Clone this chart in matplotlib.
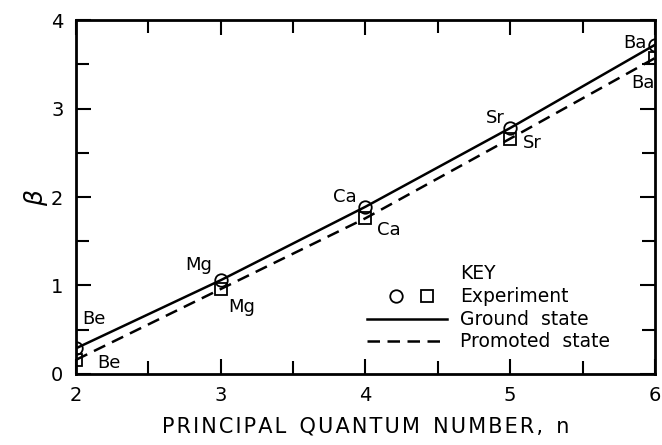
import matplotlib
matplotlib.use("Agg")
import matplotlib.pyplot as plt
from matplotlib.lines import Line2D
from matplotlib.ticker import MultipleLocator

# principal quantum number and element of each alkaline earth atom
n = [2, 3, 4, 5, 6]
elements = ["Be", "Mg", "Ca", "Sr", "Ba"]

# beta values: ground state (circles, solid) and promoted state (squares, dashed)
betaGround = [0.29, 1.06, 1.89, 2.78, 3.72]
betaPromoted = [0.16, 0.96, 1.76, 2.66, 3.57]

# label anchor points (data units) for the upper / lower element names
upperLabelXY = [(2.04, 0.62, "left"), (2.94, 1.23, "right"), (3.94, 2.0, "right"),
                (4.96, 2.89, "right"), (5.94, 3.74, "right")]
lowerLabelXY = [(2.145, 0.12, "left"), (3.05, 0.76, "left"), (4.08, 1.63, "left"),
                (5.09, 2.61, "left"), (5.995, 3.29, "right")]

plt.rcParams["font.family"] = "DejaVu Sans"


def spaced(s):
    # open up the letter spacing a little with hair spaces
    return "\u200a".join(s)


fig = plt.figure(figsize=(6.62, 4.45), dpi=100)
ax = fig.add_axes([0.1148, 0.1596, 0.8746, 0.7954])

ax.plot(n, betaGround, "-", color="black", lw=1.8)
ax.plot(n, betaPromoted, color="black", lw=1.8, dashes=(5, 3))
ax.plot(n, betaGround, "o", ms=9, mfc="none", mec="black", mew=1.3)
ax.plot(n, betaPromoted, "s", ms=9, mfc="none", mec="black", mew=1.3)

for (x, y, ha), name in zip(upperLabelXY, elements):
    ax.text(x, y, name, fontsize=13, ha=ha, va="center")
for (x, y, ha), name in zip(lowerLabelXY, elements):
    ax.text(x, y, name, fontsize=13, ha=ha, va="center")

# key drawn by hand in axes fractions
tr = ax.transAxes
keyFont = 13.5
ax.text(0.663, 0.285, "KEY", transform=tr, fontsize=keyFont, va="center")
ax.text(0.663, 0.220, "Experiment", transform=tr, fontsize=keyFont, va="center")
ax.text(0.663, 0.155, "Ground  state", transform=tr, fontsize=keyFont, va="center")
ax.text(0.663, 0.093, "Promoted  state", transform=tr, fontsize=keyFont, va="center")
ax.add_line(Line2D([0.553], [0.220], transform=tr, marker="o", ms=9,
                   mfc="none", mec="black", mew=1.3, ls="none"))
ax.add_line(Line2D([0.606], [0.220], transform=tr, marker="s", ms=9,
                   mfc="none", mec="black", mew=1.3, ls="none"))
ax.add_line(Line2D([0.503, 0.641], [0.155, 0.155], transform=tr,
                   color="black", lw=1.8))
ax.add_line(Line2D([0.503, 0.641], [0.093, 0.093], transform=tr,
                   color="black", lw=1.8, dashes=(5, 3)))

ax.set_xlim(2, 6)
ax.set_ylim(0, 4)
ax.xaxis.set_major_locator(MultipleLocator(1))
ax.xaxis.set_minor_locator(MultipleLocator(0.5))
ax.yaxis.set_major_locator(MultipleLocator(1))
ax.yaxis.set_minor_locator(MultipleLocator(0.5))
ax.tick_params(which="both", direction="in", top=True, right=True,
               width=1.5, labelsize=14)
ax.tick_params(which="major", length=11, pad=9)
ax.tick_params(which="minor", length=9.5)
for s in ax.spines.values():
    s.set_linewidth(2)

ax.set_xlabel("  ".join(spaced(w) for w in ["PRINCIPAL", "QUANTUM", "NUMBER,", "n"]),
              fontsize=15, labelpad=8)
ax.set_ylabel(r"$\beta$", fontsize=18, labelpad=1)

fig.savefig("out.png", dpi=100)
